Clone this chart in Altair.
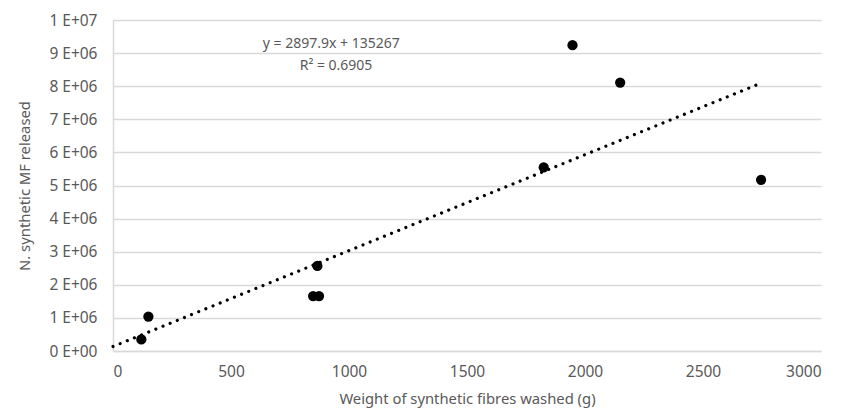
import altair as alt
import pandas as pd

# Data
weight_g = [120, 150, 848, 873, 866, 1825, 1947, 2149, 2746]
n_mf = [0.35e6, 1.04e6, 1.66e6, 1.66e6, 2.57e6, 5.55e6, 9.24e6, 8.11e6, 5.17e6]

slope = 2897.9
intercept = 135267
eq_lines = ["y = 2897.9x + 135267", "R² = 0.6905"]

x_ticks = [0, 500, 1000, 1500, 2000, 2500, 3000]
y_ticks = [i * 1e6 for i in range(11)]

pts = pd.DataFrame({"w": weight_g, "n": n_mf})
trend = pd.DataFrame({"w": [0, max(weight_g)],
                      "n": [intercept, slope * max(weight_g) + intercept]})

FONT = "Noto Sans"
GREY = "#595959"
GRID = "#d9d9d9"
LFS = 15.5
TFS = 14.8

xscale = alt.Scale(domain=[0, 3000], nice=False, zero=False)
yscale = alt.Scale(domain=[0, 1e7], nice=False)

xaxis = alt.Axis(values=x_ticks, format="d", title="Weight of synthetic fibres washed (g)",
                 grid=False, ticks=False, domainColor=GRID, domainWidth=1.5,
                 labelColor=GREY, labelFontSize=LFS, labelFont=FONT, labelPadding=13,
                 labelOverlap=False,
                 titleColor=GREY, titleFontSize=TFS, titleFont=FONT,
                 titleFontWeight="normal", titlePadding=12)
yaxis = alt.Axis(values=y_ticks, title="N. synthetic MF released",
                 grid=True, gridColor=GRID, gridWidth=1.5, ticks=False,
                 domainColor=GRID, domainWidth=1.5,
                 labelColor=GREY, labelFontSize=LFS, labelFont=FONT, labelPadding=16,
                 labelOverlap=False,
                 labelExpr="datum.value == 0 ? '0 E+00' : (datum.value >= 1e7 ? '1 E+07' : format(datum.value/1e6, 'd') + ' E+06')",
                 titleColor=GREY, titleFontSize=TFS, titleFont=FONT,
                 titleFontWeight="normal", titlePadding=16)

X = alt.X("w:Q", scale=xscale, axis=xaxis)
Y = alt.Y("n:Q", scale=yscale, axis=yaxis)

trend_line = alt.Chart(trend).mark_line(
    color="black", strokeWidth=3.2, strokeDash=[0.01, 7.7], strokeCap="round"
).encode(x=X, y=Y)

points = alt.Chart(pts).mark_circle(color="black", opacity=1, size=105).encode(x=X, y=Y)

eq1 = alt.Chart().mark_text(text=eq_lines[0], font=FONT, fontSize=14, color=GREY,
                            align="center", baseline="middle").encode(
    x=alt.datum(925, scale=xscale, axis=xaxis), y=alt.datum(9.27e6, scale=yscale, axis=yaxis))
eq2 = alt.Chart().mark_text(text=eq_lines[1], font=FONT, fontSize=14, color=GREY,
                            align="center", baseline="middle").encode(
    x=alt.datum(945, scale=xscale, axis=xaxis), y=alt.datum(8.6e6, scale=yscale, axis=yaxis))

chart = alt.layer(trend_line, points, eq1, eq2).properties(
    width=708, height=331,
    autosize=alt.AutoSizeParams(type="none"),
    padding={"left": 105, "top": 12, "right": 25, "bottom": 58},
).configure_view(stroke=None)

chart.save("out.html", embed_options={"renderer": "svg", "actions": False})
